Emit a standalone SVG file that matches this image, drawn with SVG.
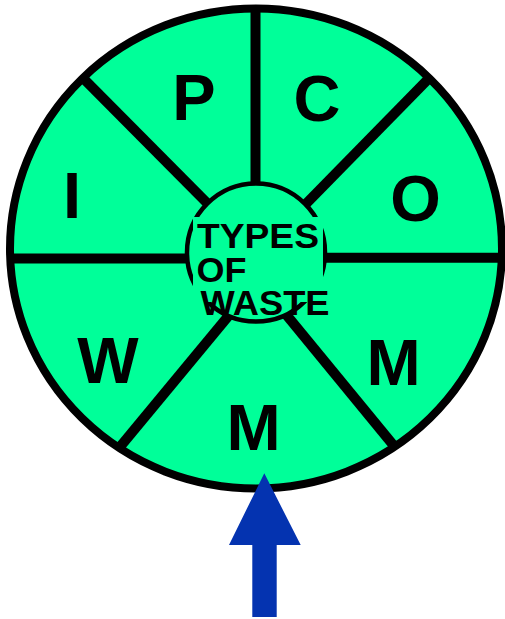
<svg xmlns="http://www.w3.org/2000/svg" width="505" height="619" viewBox="0 0 505 619">
  <style>
    .fill { fill: #00ff99; }
    .spoke { stroke: #000; stroke-width: 10; stroke-linecap: butt; fill: none; }
    .big { font-family: "Liberation Sans", Arial, sans-serif; font-weight: bold; font-size: 65px; fill: #000; text-anchor: middle; }
    .hub { font-family: "Liberation Sans", Arial, sans-serif; font-weight: bold; font-size: 35px; fill: #000; }
  </style>
  <defs>
    <clipPath id="wheelClip">
      <ellipse cx="256" cy="248.5" rx="246" ry="240"/>
    </clipPath>
  </defs>

  <!-- wheel body -->
  <g id="wheel">
    <ellipse class="fill" cx="256" cy="248.5" rx="246" ry="240"/>
  </g>

  <!-- dividing spokes -->
  <g id="connectors" clip-path="url(#wheelClip)">
    <line class="spoke" x1="255.5" y1="0" x2="255.5" y2="200"/>
    <line class="spoke" x1="0" y1="258.5" x2="200" y2="258.5"/>
    <line class="spoke" x1="310" y1="257.7" x2="510" y2="257.7"/>
    <line class="spoke" x1="70" y1="65" x2="215" y2="211"/>
    <line class="spoke" x1="442" y1="65" x2="297" y2="213"/>
    <line class="spoke" x1="105" y1="465" x2="240" y2="302"/>
    <line class="spoke" x1="408" y1="463" x2="275" y2="301"/>
  </g>

  <!-- rim -->
  <ellipse cx="256" cy="248.5" rx="246" ry="240" fill="none" stroke="#000" stroke-width="8"/>

  <!-- segment letters -->
  <g id="seg-p"><text class="big" x="194" y="120">P</text></g>
  <g id="seg-c"><text class="big" x="317" y="121">C</text></g>
  <g id="seg-i"><text class="big" x="72" y="218">I</text></g>
  <g id="seg-o"><text class="big" x="415.5" y="221">O</text></g>
  <g id="seg-w"><text class="big" x="108" y="383">W</text></g>
  <g id="seg-m1"><text class="big" x="393.5" y="385">M</text></g>
  <g id="seg-m2"><text class="big" x="253.5" y="450">M</text></g>

  <!-- hub with its three-line title -->
  <g id="hub">
    <circle class="fill" cx="256" cy="252.5" r="69" stroke="#000" stroke-width="4.5"/>
    <rect class="fill" x="193" y="217" width="130" height="85"/>
    <text class="hub"><tspan x="197" y="248.3" textLength="122" lengthAdjust="spacingAndGlyphs">TYPES</tspan><tspan x="196.5" y="281.7" textLength="50" lengthAdjust="spacingAndGlyphs">OF</tspan><tspan x="200.5" y="315" textLength="129" lengthAdjust="spacingAndGlyphs">WASTE</tspan></text>
  </g>

  <!-- pointer arrow -->
  <g id="pointer">
    <polygon points="264.3,473.3 300.7,545 276.7,545 276.7,617 252.3,617 252.3,545 229,545" fill="#0433b0"/>
  </g>
</svg>
